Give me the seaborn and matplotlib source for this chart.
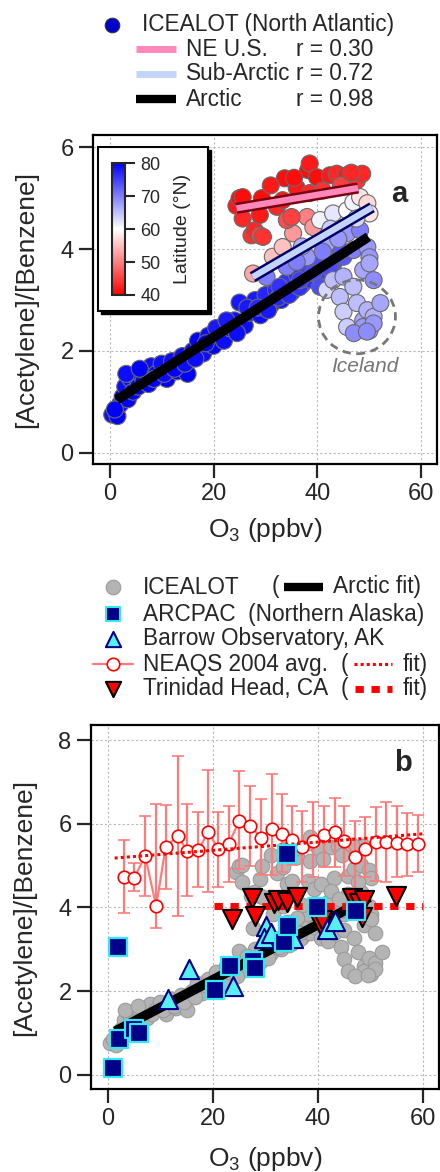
import numpy as np
import pandas as pd
import seaborn as sns
import matplotlib.pyplot as plt
from matplotlib.patches import Ellipse, Rectangle
from matplotlib.colors import Normalize
from matplotlib.cm import ScalarMappable

# ICEALOT ship data (O3 ppbv, acetylene/benzene ratio, latitude), by region
arctic_o3 = [0.5, 1.5, 2.0, 2.5, 3.0, 3.5, 4.0, 4.5, 5.0, 5.5, 6.0, 6.5, 7.0, 7.5, 8.0,
             9.0, 10.0, 11.0, 12.0, 13.0, 14.0, 15.0, 16.0, 17.0, 18.0, 19.0, 20.0, 21.0,
             22.0, 23.0, 24.0, 25.0, 26.0, 27.0, 28.0, 29.0, 30.0, 31.0, 32.0, 33.0, 34.0,
             35.0, 36.0, 37.0, 38.0, 39.0, 40.0, 41.0, 42.0, 43.0, 44.0, 45.0,
             1.0, 3.2, 5.8, 8.5, 10.5, 12.5, 14.5, 16.5, 18.5, 20.5, 22.5, 24.5, 26.5, 28.5,
             30.5, 32.5, 34.5, 36.5, 38.5, 40.5, 42.5, 44.5]
arctic_ratio = [0.75, 0.72, 0.95, 1.10, 1.30, 1.05, 1.45, 1.20, 1.50, 1.30, 1.55, 1.40, 1.60,
                1.35, 1.70, 1.55, 1.75, 1.45, 1.80, 1.60, 1.90, 1.55, 2.00, 2.20, 1.95, 2.30,
                2.10, 2.35, 2.20, 2.45, 2.60, 2.95, 2.50, 2.75, 3.00, 2.70, 3.10, 2.90, 3.20,
                3.00, 3.35, 3.15, 3.50, 3.30, 3.65, 3.45, 3.75, 3.35, 3.90, 3.70, 4.05, 3.85,
                0.85, 1.55, 1.65, 1.45, 1.55, 1.65, 1.75, 1.85, 2.15, 2.45, 2.60, 2.35, 2.85,
                2.85, 2.80, 3.05, 3.10, 3.25, 3.40, 3.55, 3.60, 3.95]
arctic_lat = [79, 80, 79, 80, 79, 80, 79, 80, 79, 80, 79, 80, 79, 80, 79, 80, 79, 80, 79, 80,
              79, 80, 79, 80, 79, 79, 80, 79, 79, 78, 79, 78, 79, 78, 78, 79, 77, 78, 77, 78,
              76, 77, 76, 76, 75, 76, 74, 76, 73, 74, 72, 73,
              80, 79, 80, 80, 79, 80, 79, 79, 80, 78, 78, 79, 78, 77, 78, 77, 77, 76, 76, 75,
              74, 73]

subarctic_o3 = [27.6, 30.2, 31.4, 32.7, 33.3, 34.1, 35.3, 36.6, 38.0, 38.0, 39.2, 39.2, 40.5,
                40.5, 41.8, 43.0, 45.7, 45.7, 46.9, 46.9, 48.2, 48.2, 49.6, 49.6, 50.0, 50.0,
                37.0, 42.5, 44.0, 47.5, 36.0, 41.0]
subarctic_ratio = [3.52, 3.45, 3.85, 3.26, 4.04, 3.65, 4.31, 3.39, 3.84, 4.63, 3.53, 4.43, 3.26,
                   4.57, 4.12, 4.70, 4.31, 4.76, 3.98, 4.92, 4.37, 5.02, 4.04, 4.90, 3.84, 4.70,
                   4.05, 4.40, 4.20, 4.60, 3.75, 3.95]
subarctic_lat = [53, 70, 55, 76, 55, 70, 52, 75, 68, 50, 74, 52, 74, 61, 67, 62, 68, 60, 70, 61,
                 70, 58, 68, 57, 68, 58, 66, 64, 68, 63, 70, 70]

iceland_o3 = [41.8, 43.0, 44.3, 45.0, 45.0, 45.7, 46.9, 47.6, 48.8, 48.8, 48.8, 49.6, 50.0,
              50.0, 50.8, 50.8, 50.8, 52.1, 47.0, 49.5]
iceland_ratio = [3.20, 3.39, 3.06, 3.46, 2.77, 2.47, 3.26, 2.94, 3.59, 2.60, 2.47, 2.80, 3.72,
                 2.40, 2.67, 2.54, 3.39, 2.94, 2.35, 2.38]
iceland_lat = [63, 65, 65, 66, 64, 64, 65, 65, 67, 67, 68, 66, 67, 68, 66, 68, 69, 67, 69, 69]

neus_o3 = [24.4, 25.0, 25.6, 25.6, 27.3, 27.9, 28.9, 28.9, 29.3, 29.5, 32.2, 33.3, 33.7, 34.1,
           35.0, 36.0, 38.2, 38.5, 38.5, 39.9, 42.4, 43.7, 45.6, 47.6, 48.6, 41.0, 44.5, 46.5,
           31.0, 35.5]
neus_ratio = [4.85, 5.00, 5.02, 4.60, 4.27, 4.37, 4.67, 4.27, 5.00, 4.24, 4.83, 4.96, 5.39, 4.57,
              4.63, 5.20, 5.55, 5.68, 5.10, 5.41, 5.45, 5.48, 5.45, 5.35, 5.48, 5.15, 5.25, 5.50,
              5.25, 5.40]
neus_lat = [42, 41, 41, 43, 44, 43, 42, 45, 41, 44, 43, 42, 41, 46, 45, 42, 41, 42, 43, 41, 42,
            43, 42, 44, 43, 44, 45, 43, 42, 41]

# regression lines
arctic_fit_o3 = [1.4, 49.8]
arctic_fit_ratio = [1.04, 4.24]
neus_fit_o3 = [24.4, 47.8]
neus_fit_ratio = [4.80, 5.20]
subarctic_fit_o3 = [27.5, 50.5]
subarctic_fit_ratio = [3.45, 4.82]

# panel b comparison datasets
arcpac_o3 = [0.9, 2.2, 5.0, 6.0, 2.0, 20.3, 23.2, 27.7, 28.0, 33.5, 34.2, 34.0, 39.8, 47.3]
arcpac_ratio = [0.16, 0.86, 1.10, 1.00, 3.05, 2.02, 2.59, 2.72, 2.55, 3.17, 3.55, 5.28, 4.00, 3.91]

barrow_o3 = [11.4, 15.5, 23.9, 30.0, 29.7, 31.0, 35.3, 41.7, 43.3]
barrow_ratio = [1.80, 2.52, 2.13, 3.55, 3.28, 3.40, 3.26, 3.48, 3.67]

trinidad_o3 = [23.7, 27.5, 28.0, 31.6, 32.3, 34.0, 36.0, 40.3, 40.8, 46.4, 47.8, 48.8, 48.4, 54.8]
trinidad_ratio = [3.72, 4.22, 3.80, 4.10, 4.18, 4.14, 4.26, 3.60, 3.70, 4.22, 4.10, 4.18, 3.78, 4.28]
trinidad_fit_o3 = [20.2, 60.0]
trinidad_fit_ratio = [4.03, 4.03]

neaqs_o3 = [3.0, 5.0, 7.1, 9.2, 11.0, 13.3, 15.1, 17.2, 19.1, 21.0, 23.0, 25.0, 27.1, 29.2, 31.2,
            33.1, 35.1, 37.0, 39.1, 41.1, 43.2, 45.0, 47.1, 49.0, 51.0, 52.9, 55.0, 57.0, 59.0]
neaqs_ratio = [4.72, 4.70, 5.23, 4.03, 5.44, 5.71, 5.35, 5.37, 5.80, 5.40, 5.52, 6.07, 5.95, 5.66,
               5.88, 5.76, 5.61, 5.44, 5.59, 5.73, 5.80, 5.59, 5.20, 5.40, 5.56, 5.56, 5.54, 5.52,
               5.52]
neaqs_top = [5.61, 5.06, 6.19, 6.47, 6.45, 7.63, 6.47, 6.28, 7.29, 6.28, 6.43, 7.27, 6.91, 6.59,
             7.19, 6.71, 6.43, 6.31, 6.52, 6.43, 6.62, 6.43, 6.07, 6.16, 6.40, 6.52, 6.43, 6.26,
             6.21]
neaqs_bottom = [3.86, 4.39, 4.27, 3.50, 4.44, 3.79, 4.27, 4.50, 4.36, 4.48, 4.60, 4.92, 4.99, 4.77,
                4.77, 4.84, 5.01, 4.60, 4.72, 4.96, 4.96, 4.75, 4.20, 4.72, 4.63, 4.60, 4.72, 4.75,
                4.84]
neaqs_fit_o3 = [1.3, 60.0]
neaqs_fit_ratio = [5.18, 5.76]

FONT = ["Liberation Sans", "DejaVu Sans"]


def icealot_frame():
    return pd.DataFrame({
        "o3": arctic_o3 + subarctic_o3 + iceland_o3 + neus_o3,
        "ratio": arctic_ratio + subarctic_ratio + iceland_ratio + neus_ratio,
        "lat": arctic_lat + subarctic_lat + iceland_lat + neus_lat,
    })


def style_axis(ax, yticks, xlab_y, ylab_x):
    ax.set_xlim(-3.2, 63.0)
    ax.set_xticks([0, 20, 40, 60])
    ax.set_yticks(yticks)
    ax.grid(True, color="#b8b8b8", linestyle=(0, (2, 2)), linewidth=0.8)
    ax.set_axisbelow(True)
    for s in ax.spines.values():
        s.set_linewidth(1.6)
        s.set_color("black")
    ax.tick_params(direction="out", length=10, width=1.6, labelsize=17, pad=4,
                   top=False, right=False)
    ax.set_xlabel("O$_3$ (ppbv)", fontsize=19)
    ax.set_ylabel("[Acetylene]/[Benzene]", fontsize=19)
    ax.xaxis.set_label_coords(0.5, xlab_y)
    ax.yaxis.set_label_coords(ylab_x, 0.5)


def panel_a(fig, df, cmap, norm):
    ax = fig.add_axes([0.2114, 0.6041, 0.7818, 0.2807])
    sns.scatterplot(data=df, x="o3", y="ratio", hue="lat", palette=cmap, hue_norm=norm,
                    s=150, edgecolor="#6a6a6a", linewidth=0.8, legend=False, ax=ax, zorder=2)
    ax.plot(arctic_fit_o3, arctic_fit_ratio, color="black", lw=7, solid_capstyle="butt", zorder=3)
    ax.plot(neus_fit_o3, neus_fit_ratio, color="#7a0010", lw=8, solid_capstyle="butt", zorder=3)
    ax.plot(neus_fit_o3, neus_fit_ratio, color="#ff88bb", lw=4.5, solid_capstyle="butt", zorder=3)
    ax.plot(subarctic_fit_o3, subarctic_fit_ratio, color="#000066", lw=8, solid_capstyle="butt", zorder=3)
    ax.plot(subarctic_fit_o3, subarctic_fit_ratio, color="#c4d4f8", lw=4.5, solid_capstyle="butt", zorder=3)
    ax.add_patch(Ellipse((47.6, 2.67), 14.8, 1.45, fill=False, edgecolor="#777777",
                         linestyle=(0, (3, 2)), lw=2, zorder=4))
    ax.text(49.2, 1.69, "Iceland", style="italic", color="#777777", fontsize=15,
            ha="center", va="center")
    ax.text(0.89, 0.82, "a", transform=ax.transAxes, fontsize=21, fontweight="bold",
            ha="center", va="center")
    ax.set_ylim(-0.22, 6.24)
    style_axis(ax, [0, 2, 4, 6], -0.158, -0.16)
    return ax


def panel_b(fig, df):
    ax = fig.add_axes([0.2068, 0.0708, 0.7909, 0.3106])
    sns.scatterplot(data=df, x="o3", y="ratio", color="#b4b4b4", s=110,
                    edgecolor="#9a9a9a", linewidth=0.8, legend=False, ax=ax, zorder=2)
    ax.plot(arctic_fit_o3, arctic_fit_ratio, color="black", lw=7, solid_capstyle="butt", zorder=3)
    y = np.array(neaqs_ratio)
    yerr = [y - np.array(neaqs_bottom), np.array(neaqs_top) - y]
    ax.errorbar(neaqs_o3, y, yerr=yerr, color="#ff7b7b", lw=1.6, elinewidth=1.6, capsize=4,
                capthick=1.6, marker="o", ms=9, mfc="white", mec="red", mew=1.2, zorder=4)
    ax.plot(neaqs_fit_o3, neaqs_fit_ratio, color="red", lw=2.2, linestyle=(0, (1, 1)), zorder=5)
    ax.plot(trinidad_fit_o3, trinidad_fit_ratio, color="red", lw=5, linestyle=(0, (1.2, 1.1)),
            zorder=5)
    sns.scatterplot(x=trinidad_o3, y=trinidad_ratio, marker="v", s=190, color="red",
                    edgecolor="black", linewidth=1.5, ax=ax, zorder=6)
    sns.scatterplot(x=barrow_o3, y=barrow_ratio, marker="^", s=190, color="#55f0f0",
                    edgecolor="#000088", linewidth=1.5, ax=ax, zorder=7)
    sns.scatterplot(x=arcpac_o3, y=arcpac_ratio, marker="s", s=170, color="#000088",
                    edgecolor="#33e8f0", linewidth=1.6, ax=ax, zorder=8)
    ax.text(0.896, 0.896, "b", transform=ax.transAxes, fontsize=21, fontweight="bold",
            ha="center", va="center")
    ax.set_ylim(-0.34, 8.36)
    style_axis(ax, [0, 2, 4, 6, 8], -0.154, -0.157)
    return ax


def legends(fig):
    ov = fig.add_axes([0, 0, 1, 1])
    ov.set_xlim(0, 440)
    ov.set_ylim(1172, 0)
    ov.axis("off")
    fs = 16.3

    # panel a legend
    ov.scatter([112], [25], s=110, color="#0000cc", edgecolor="#333333", linewidth=0.8)
    ov.text(142, 25, "ICEALOT (North Atlantic)", va="center", fontsize=fs)
    rows = [(49, "#ff88bb", 5, "NE U.S.", "r = 0.30"),
            (74, "#c4d4f8", 5, "Sub-Arctic", "r = 0.72"),
            (99, "black", 6, "Arctic", "r = 0.98")]
    for y, c, lw, name, r in rows:
        ov.plot([136, 176], [y, y], color=c, lw=lw, solid_capstyle="butt")
        ov.text(186, y, name, va="center", fontsize=fs)
        ov.text(296, y, r, va="center", fontsize=fs)

    # colour-bar box (with drop shadow) inside panel a
    ov.add_patch(Rectangle((101, 150), 110, 164, facecolor="black", edgecolor="black"))
    ov.add_patch(Rectangle((98, 147), 110, 164, facecolor="white", edgecolor="black", lw=1.5))

    # panel b legend
    ov.scatter([113], [587], s=110, color="#b4b4b4", edgecolor="#9a9a9a", linewidth=0.8)
    ov.text(143, 587, "ICEALOT", va="center", fontsize=fs)
    ov.text(272, 587, "(", va="center", fontsize=fs)
    ov.plot([284, 323], [587, 587], color="black", lw=6, solid_capstyle="butt")
    ov.text(333, 587, "Arctic fit)", va="center", fontsize=fs)

    ov.scatter([113], [614], s=95, marker="s", color="#000088", edgecolor="#33e8f0", linewidth=1.5)
    ov.text(143, 614, "ARCPAC  (Northern Alaska)", va="center", fontsize=fs)

    ov.scatter([113], [639], s=120, marker="^", color="#55f0f0", edgecolor="#000088", linewidth=1.5)
    ov.text(143, 639, "Barrow Observatory, AK", va="center", fontsize=fs)

    ov.plot([93, 133], [664, 664], color="#ff7b7b", lw=1.6)
    ov.plot([113], [664], marker="o", ms=9, mfc="white", mec="red", mew=1.2)
    ov.text(143, 664, "NEAQS 2004 avg.", va="center", fontsize=fs)
    ov.text(341, 664, "(", va="center", fontsize=fs)
    ov.plot([354, 392], [664, 664], color="red", lw=2.2, linestyle=(0, (1, 1)))
    ov.text(403, 664, "fit)", va="center", fontsize=fs)

    ov.scatter([113], [689], s=120, marker="v", color="red", edgecolor="black", linewidth=1.5)
    ov.text(143, 689, "Trinidad Head, CA", va="center", fontsize=fs)
    ov.text(341, 689, "(", va="center", fontsize=fs)
    ov.plot([355, 392], [689, 689], color="red", lw=5, linestyle=(0, (1.2, 1.1)))
    ov.text(403, 689, "fit)", va="center", fontsize=fs)


def main():
    sns.set_style("ticks")
    plt.rcParams["font.family"] = FONT
    plt.rcParams["mathtext.fontset"] = "custom"
    plt.rcParams["mathtext.rm"] = "Liberation Sans"

    df = icealot_frame()
    cmap = "bwr_r"
    norm = Normalize(40, 80)

    fig = plt.figure(figsize=(4.4, 11.72), dpi=100)
    panel_a(fig, df, cmap, norm)
    panel_b(fig, df)
    legends(fig)

    cax = fig.add_axes([0.2545, 0.7483, 0.0295, 0.1126])
    cb = fig.colorbar(ScalarMappable(norm=norm, cmap=cmap), cax=cax, ticks=[40, 50, 60, 70, 80])
    cb.outline.set_linewidth(1.5)
    cax.tick_params(length=7, width=1.5, labelsize=13, pad=4)
    cb.set_label("Latitude (°N)", fontsize=14, labelpad=10)

    fig.savefig("out.png", dpi=100)


if __name__ == "__main__":
    main()
